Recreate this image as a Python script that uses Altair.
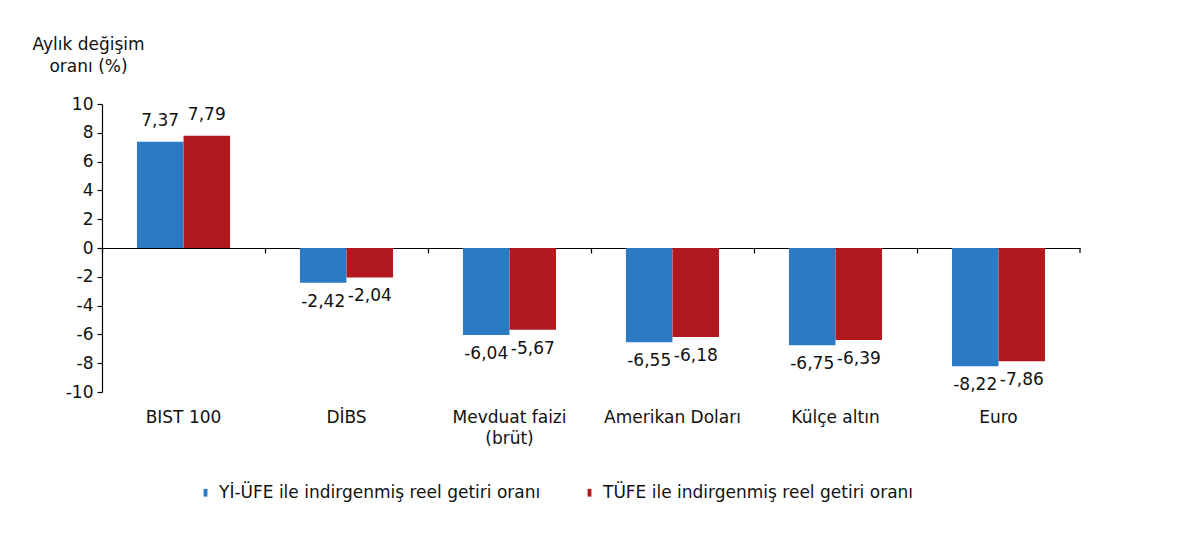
import altair as alt
import pandas as pd

# Monthly real returns of financial instruments (%)
categories = ["BIST 100", "DİBS", "Mevduat faizi\n(brüt)", "Amerikan Doları", "Külçe altın", "Euro"]
series = ["Yİ-ÜFE ile indirgenmiş reel getiri oranı", "TÜFE ile indirgenmiş reel getiri oranı"]
yi_ufe = [7.37, -2.42, -6.04, -6.55, -6.75, -8.22]
tufe = [7.79, -2.04, -5.67, -6.18, -6.39, -7.86]
colors = ["#2B7BC4", "#B2191E"]
y_ticks = [-10, -8, -6, -4, -2, 0, 2, 4, 6, 8, 10]

rows = []
for name, vals in zip(series, [yi_ufe, tufe]):
    for cat, v in zip(categories, vals):
        rows.append({"cat": cat, "series": name, "value": v,
                     "label": f"{v:.2f}".replace(".", ",")})
df = pd.DataFrame(rows)

FONT = "DejaVu Sans"
FS = 17
W, H = 978, 288

x_enc = alt.X(
    "cat:N", sort=categories,
    scale=alt.Scale(paddingInner=0, paddingOuter=0),
    axis=alt.Axis(
        title=None, orient="bottom", offset=-H / 2,
        domainColor="black", domainWidth=1.2, tickColor="black", tickWidth=1.2,
        tickSize=5, bandPosition=0, labelPadding=156, labelAngle=0,
        labelFont=FONT, labelFontSize=FS, labelColor="#111", labelLimit=0,
        labelLineHeight=21, labelBaseline="top",
        labelExpr="split(datum.label, '\\n')",
    ),
)
xoff_enc = alt.XOffset("series:N", sort=series,
                       scale=alt.Scale(paddingOuter=0.75, paddingInner=0))
y_enc = alt.Y(
    "value:Q",
    scale=alt.Scale(domain=[-10, 10], nice=False, zero=False),
    axis=alt.Axis(
        values=y_ticks, tickCount=11, grid=False, domainColor="black", domainWidth=1.2,
        tickColor="black", tickWidth=1.2, tickSize=5, labelPadding=4,
        labelOverlap=False, labelFlush=False,
        labelExpr="datum.value < 0 ? '-' + abs(datum.value) : '' + datum.value",
        labelFont=FONT, labelFontSize=FS, labelColor="#111",
        title=["Aylık değişim", "oranı (%)"], titleAngle=0, titleAlign="center",
        titleBaseline="top", titleX=-14, titleY=-68, titleFont=FONT,
        titleFontSize=FS, titleFontWeight="normal", titleColor="#111",
        titleLineHeight=22,
    ),
)
color_enc = alt.Color(
    "series:N", sort=series,
    scale=alt.Scale(domain=series, range=colors),
    legend=alt.Legend(
        orient="none", legendX=95, legendY=380, direction="horizontal",
        title=None, symbolType="M-0.5,-1H0.5V1H-0.5Z", symbolSize=60,
        symbolStrokeWidth=0, labelFont=FONT, labelFontSize=FS,
        labelColor="#111", columnPadding=40, labelOffset=5, labelLimit=0,
    ),
)

base = alt.Chart(df)

bars = base.mark_bar(size=46.5).encode(x=x_enc, xOffset=xoff_enc, y=y_enc, color=color_enc)

pos_labels = base.transform_filter("datum.value >= 0").mark_text(
    baseline="middle", dy=-21, font=FONT, fontSize=FS, color="#111"
).encode(x=x_enc, xOffset=xoff_enc, y=y_enc, text="label:N")

neg_labels = base.transform_filter("datum.value < 0").mark_text(
    baseline="middle", dy=19, font=FONT, fontSize=FS, color="#111"
).encode(x=x_enc, xOffset=xoff_enc, y=y_enc, text="label:N")

end_tick = alt.Chart(pd.DataFrame({"a": [0]})).mark_rule(color="black", strokeWidth=1.2).encode(
    x=alt.value(W), y=alt.value(H / 2), y2=alt.value(H / 2 + 5)
)

chart = alt.layer(bars, pos_labels, neg_labels, end_tick).properties(
    width=W, height=H,
    autosize=alt.AutoSizeParams(type="none"),
    padding={"left": 102, "top": 104, "right": 120, "bottom": 144},
    background="white",
).configure_view(stroke=None)

chart.save("out.html", embed_options={"renderer": "svg", "actions": False})
